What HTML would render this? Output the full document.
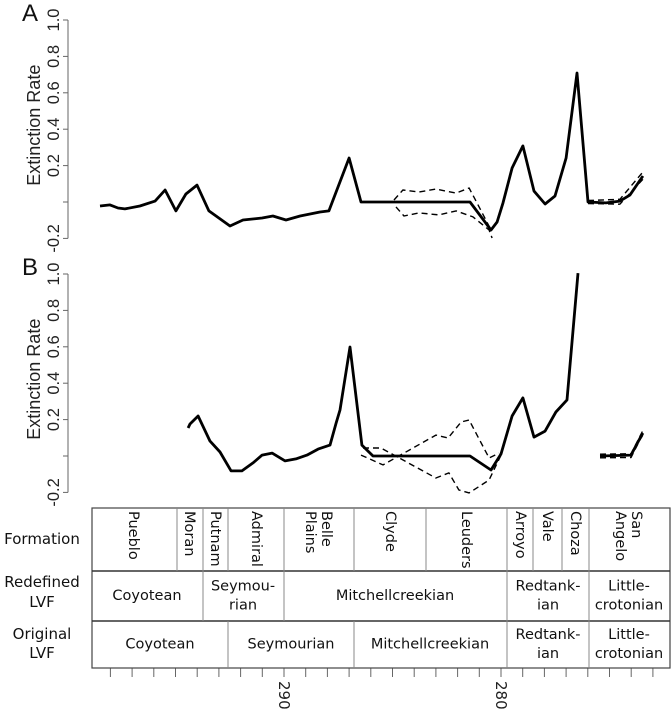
<!DOCTYPE html>
<html><head><meta charset="utf-8"><style>
html,body{margin:0;padding:0;background:#fff;}
svg{display:block;font-family:"DejaVu Sans","Liberation Sans",sans-serif;}
</style></head><body>
<svg id="fig" width="672" height="715" viewBox="0 0 672 715">
<g id="axes"></g><g id="series"></g><g id="table"></g>
</svg>
<script>
// ---- data ----
const yTicks = [1.0, 0.8, 0.6, 0.4, 0.2, 0.0, -0.2];
const yTickLabels = ["1.0", "0.8", "0.6", "0.4", "0.2", "", "-0.2"];
const ageTicks = [298,297,296,295,294,293,292,291,290,289,288,287,286,285,284,283,282,281,280,279,278,277,276,275,274,273];
const ageTickLabels = {290:"290", 280:"280"};

const aAges = [298.48,298.02,297.65,297.33,296.64,295.94,295.48,294.98,294.52,294.01,293.46,292.49,291.89,291.01,290.51,289.91,289.26,288.34,287.93,287.60,287.00,286.45,281.43,280.46,280.18,279.91,279.49,278.99,278.48,277.97,277.51,277.00,276.50,275.99,275.16,274.52,274.06,273.46];
const aRates = [-0.022,-0.016,-0.033,-0.038,-0.022,0.005,0.066,-0.049,0.044,0.093,-0.049,-0.132,-0.099,-0.088,-0.077,-0.099,-0.077,-0.055,-0.049,0.055,0.242,0,0,-0.154,-0.11,-0.005,0.187,0.308,0.06,-0.011,0.033,0.242,0.709,0,-0.005,0.005,0.038,0.143];
const aUpperAges = [284.93,284.52,283.78,283.00,282.07,281.47,281.01,280.46];
const aUpperRates = [0.011,0.066,0.055,0.071,0.049,0.077,-0.027,-0.154];
const aLowerAges = [284.84,284.47,283.78,282.86,282.07,281.29,280.55,280.41];
const aLowerRates = [-0.027,-0.077,-0.06,-0.071,-0.049,-0.082,-0.154,-0.198];
const aEndAges = [275.99,274.52,273.46];
const aEndUpper = [0.008,0.015,0.165];
const aEndLower = [-0.008,-0.012,0.125];

const bAges = [294.42,294.33,293.96,293.41,292.95,292.44,291.94,291.43,291.01,290.55,289.95,289.45,288.94,288.43,287.88,287.60,287.42,286.96,286.41,285.90,281.43,280.46,280.00,279.49,278.99,278.48,277.97,277.47,276.96,276.45];
const bRates = [0.154,0.176,0.220,0.082,0.022,-0.082,-0.082,-0.038,0.005,0.016,-0.027,-0.016,0.005,0.038,0.060,0.181,0.253,0.599,0.060,0,0,-0.077,0.011,0.220,0.319,0.104,0.137,0.242,0.308,1.005];
const bEndAges = [275.44,274.01,273.59,273.46];
const bEndRates = [0,0.005,0.099,0.126];
const bLine1Ages = [286.45,285.44,283.00,282.44,281.84,281.47,280.55,280.09];
const bLine1Rates = [0.005,-0.049,0.115,0.099,0.187,0.198,-0.011,0.016];
const bLine2Ages = [286.36,285.53,283.00,282.40,281.94,281.47,280.55,280.00];
const bLine2Rates = [0.044,0.044,-0.121,-0.093,-0.187,-0.203,-0.132,0.005];
const bEndUpper = [0.01,0.012,0.11,0.14];
const bEndLower = [-0.01,-0.008,0.09,0.115];

// ---- scales ----
const NS = "http://www.w3.org/2000/svg";
function xScale(age){ return 284 + (290 - age) * 21.7; }
function yA(v){ return 202 - v * 182; }
function yB(v){ return 456 - v * 182; }
function mk(tag, attrs, parent, text){
  const el = document.createElementNS(NS, tag);
  for (const k in attrs) el.setAttribute(k, attrs[k]);
  if (text !== undefined) el.textContent = text;
  parent.appendChild(el); return el;
}
const axes = document.getElementById('axes');
const series = document.getElementById('series');
const table = document.getElementById('table');

function drawYAxis(ys, letter, name){
  const g = mk('g', {}, axes);
  
  
  const ax = mk('line', {x1:68, x2:68, y1:ys(1.0), y2:ys(-0.2), stroke:'#666', 'stroke-width':1}, g);
  
  
  yTicks.forEach((t, i) => {
    const tk = mk('line', {x1:63, x2:68, y1:ys(t), y2:ys(t), stroke:'#666', 'stroke-width':1}, g);
    
    
    if (yTickLabels[i]) {
      const lb = mk('text', {x:0, y:0, 'font-size':16.5, 'text-anchor':'middle', fill:'#222', 'font-family':'Liberation Sans, sans-serif', transform:`translate(59,${ys(t)}) rotate(-90)`}, g, yTickLabels[i]);
      
      
    }
  });
  const mid = (ys(1.0) + ys(-0.2)) / 2 - 4;
  const title = mk('text', {x:0, y:0, 'font-size':18, 'text-anchor':'middle', fill:'#222', 'font-family':'Liberation Sans, sans-serif', transform:`translate(40,${mid}) rotate(-90)`}, g, 'Extinction Rate');
  
  
  const L = mk('text', {x:22, y:ys(1.0)+1, 'font-size':24, fill:'#111', 'font-family':'Liberation Sans, sans-serif'}, g, letter);
  
  
}
drawYAxis(yA, 'A', 'panel-a');
drawYAxis(yB, 'B', 'panel-b');

function drawLine(ages, vals, ys, dashed, name){
  const pts = ages.map((a, i) => xScale(a).toFixed(1) + ',' + ys(vals[i]).toFixed(1)).join(' ');
  const p = mk('polyline', {points:pts, fill:'none', stroke:'#000', 'stroke-width': dashed ? 1.4 : 2.8, 'stroke-linejoin':'round', 'stroke-dasharray': dashed ? '6,4' : 'none'}, series);
  
  
}
drawLine(aUpperAges, aUpperRates, yA, true, 'panel-a-upper-bound');
drawLine(aLowerAges, aLowerRates, yA, true, 'panel-a-lower-bound');
drawLine(aEndAges, aEndUpper, yA, true, 'panel-a-end-upper-bound');
drawLine(aEndAges, aEndLower, yA, true, 'panel-a-end-lower-bound');
drawLine(aAges, aRates, yA, false, 'panel-a-extinction-line');
drawLine(bLine1Ages, bLine1Rates, yB, true, 'panel-b-bound-1');
drawLine(bLine2Ages, bLine2Rates, yB, true, 'panel-b-bound-2');
drawLine(bEndAges, bEndUpper, yB, true, 'panel-b-end-upper-bound');
drawLine(bEndAges, bEndLower, yB, true, 'panel-b-end-lower-bound');
drawLine(bAges, bRates, yB, false, 'panel-b-extinction-line');
drawLine(bEndAges, bEndRates, yB, false, 'panel-b-extinction-line-end');

// bottom age axis
ageTicks.forEach(t => {
  const tk = mk('line', {x1:xScale(t), x2:xScale(t), y1:668, y2:677, stroke:'#666', 'stroke-width':1}, axes);
  
  
  if (ageTickLabels[t]) {
    const lb = mk('text', {x:0, y:0, 'font-size':15, 'text-anchor':'start', 'dominant-baseline':'central', fill:'#222', transform:`translate(${xScale(t)},681) rotate(90)`}, axes, ageTickLabels[t]);
    
    
  }
});
</script>
<script>
// ---- stratigraphic table ----
(function(){
  const NS = "http://www.w3.org/2000/svg";
  const t = document.getElementById('table');
  function mk(tag, attrs, parent, text){
    const el = document.createElementNS(NS, tag);
    for (const k in attrs) el.setAttribute(k, attrs[k]);
    if (text !== undefined) el.textContent = text;
    parent.appendChild(el); return el;
  }
  const L = 92, R = 670, Y0 = 508, Y1 = 571, Y2 = 621, Y3 = 668;
  mk('rect', {x:L, y:Y0, width:R-L, height:Y3-Y0, fill:'none', stroke:'#444', 'stroke-width':1.2}, t);
  mk('line', {x1:L, x2:R, y1:Y1, y2:Y1, stroke:'#333', 'stroke-width':1.4}, t);
  mk('line', {x1:L, x2:R, y1:Y2, y2:Y2, stroke:'#333', 'stroke-width':1.4}, t);
  [177,203,228,284,354,426,507,533,562,589].forEach(x => mk('line', {x1:x, x2:x, y1:Y0, y2:Y1, stroke:'#888', 'stroke-width':1}, t));
  [203,284,507,589].forEach(x => mk('line', {x1:x, x2:x, y1:Y1, y2:Y2, stroke:'#888', 'stroke-width':1}, t));
  [228,354,507,589].forEach(x => mk('line', {x1:x, x2:x, y1:Y2, y2:Y3, stroke:'#888', 'stroke-width':1}, t));

  const rl = [
    {lines:["Formation"], ys:[539], name:"formation-row-header"},
    {lines:["Redefined","LVF"], ys:[582,602], name:"redefined-lvf-row-header"},
    {lines:["Original","LVF"], ys:[634,653], name:"original-lvf-row-header"}
  ];
  rl.forEach(r => r.lines.forEach((s, i) => {
    const e = mk('text', {x:42, y:r.ys[i], 'font-size':15, 'text-anchor':'middle', 'dominant-baseline':'central', fill:'#111'}, t, s);
    
    
  }));

  const forms = [["Pueblo",133],["Moran",189],["Putnam",215],["Admiral",256],["Belle|Plains",318],["Clyde",390],["Leuders",466],["Arroyo",520],["Vale",547],["Choza",575],["San|Angelo",628]];
  forms.forEach(f => {
    const parts = f[0].split('|');
    parts.forEach((s, i) => {
      const off = parts.length > 1 ? (i === 0 ? 8 : -8) : 0;
      const e = mk('text', {x:0, y:0, 'font-size':14.5, 'text-anchor':'start', 'dominant-baseline':'central', fill:'#111', transform:`translate(${f[1]+off},${Y0+3}) rotate(90)`}, t, s);
      
      
    });
  });

  const cells = [
    [["Coyotean"],147,(Y1+Y2)/2,"redefined"],[["Seymou-","rian"],243,(Y1+Y2)/2,"redefined"],[["Mitchellcreekian"],395,(Y1+Y2)/2,"redefined"],
    [["Redtank-","ian"],548,(Y1+Y2)/2,"redefined"],[["Little-","crotonian"],629,(Y1+Y2)/2,"redefined"],
    [["Coyotean"],160,(Y2+Y3)/2,"original"],[["Seymourian"],291,(Y2+Y3)/2,"original"],[["Mitchellcreekian"],430,(Y2+Y3)/2,"original"],
    [["Redtank-","ian"],548,(Y2+Y3)/2,"original"],[["Little-","crotonian"],629,(Y2+Y3)/2,"original"]
  ];
  cells.forEach(c => {
    const n = c[0].length;
    c[0].forEach((s, i) => {
      const y = c[2] + (n > 1 ? (i === 0 ? -9.5 : 9.5) : 0);
      const e = mk('text', {x:c[1], y:y, 'font-size':14.5, 'text-anchor':'middle', 'dominant-baseline':'central', fill:'#111'}, t, s);
      
      
    });
  });
})();
</script>
</body></html>
